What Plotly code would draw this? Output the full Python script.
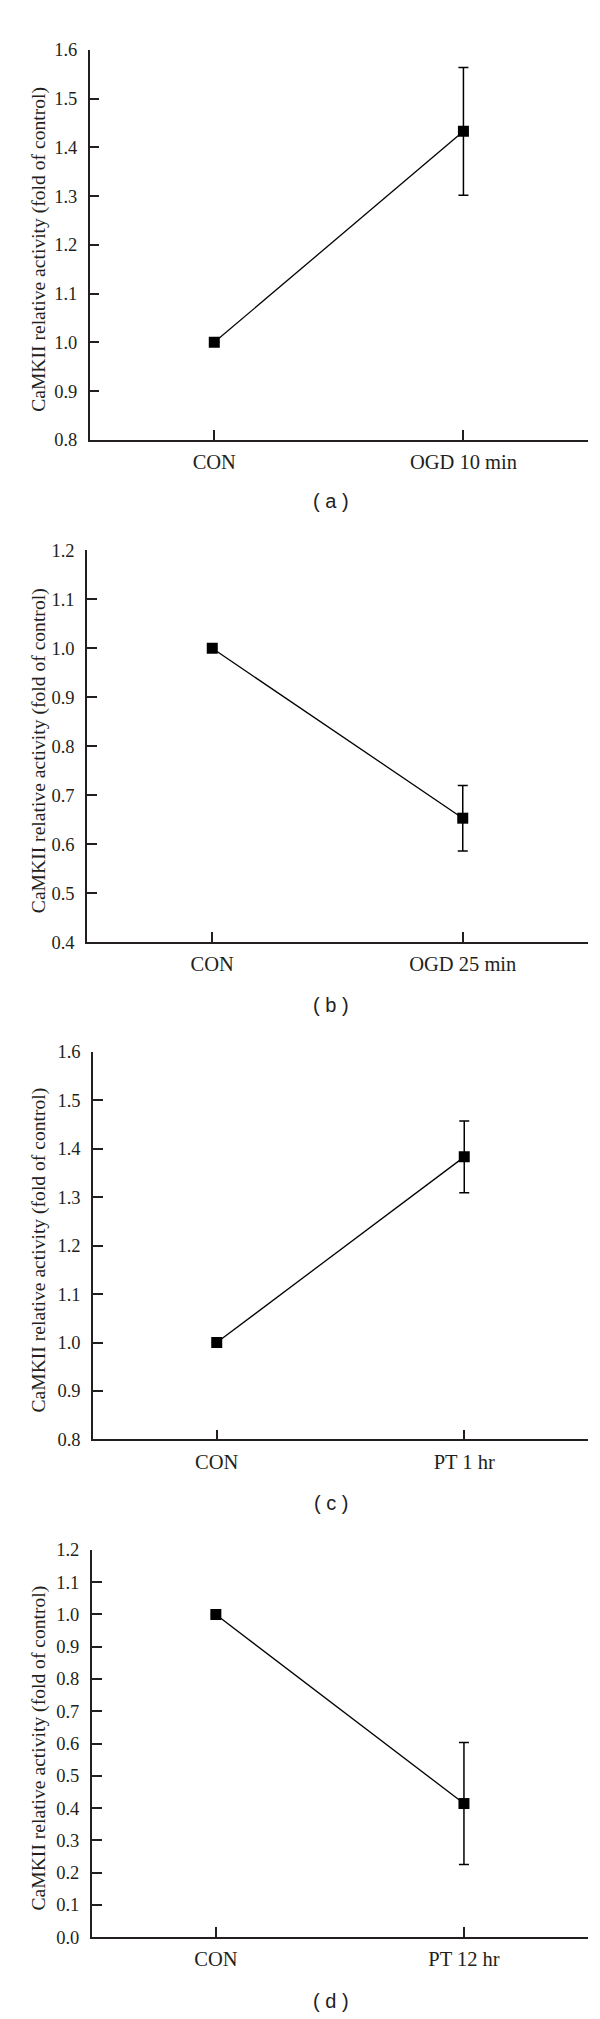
import plotly.graph_objects as go

# ---- data ----
categories_a = ["CON", "OGD 10 min"]
values_a = [1.0, 1.433]
errors_a = [0.0, 0.131]

categories_b = ["CON", "OGD 25 min"]
values_b = [1.0, 0.653]
errors_b = [0.0, 0.067]

categories_c = ["CON", "PT 1 hr"]
values_c = [1.0, 1.383]
errors_c = [0.0, 0.074]

categories_d = ["CON", "PT 12 hr"]
values_d = [1.0, 0.414]
errors_d = [0.0, 0.189]

yticks_a = [0.8, 0.9, 1.0, 1.1, 1.2, 1.3, 1.4, 1.5, 1.6]
yticks_b = [0.4, 0.5, 0.6, 0.7, 0.8, 0.9, 1.0, 1.1, 1.2]
yticks_c = [0.8, 0.9, 1.0, 1.1, 1.2, 1.3, 1.4, 1.5, 1.6]
yticks_d = [0.0, 0.1, 0.2, 0.3, 0.4, 0.5, 0.6, 0.7, 0.8, 0.9, 1.0, 1.1, 1.2]

panel_labels = ["( a )", "( b )", "( c )", "( d )"]
y_title = "CaMKII relative activity (fold of control)"

# ---- layout geometry (pixels in a 600 x 2019 page) ----
W, H = 600, 2019
panels = [
    dict(cats=categories_a, vals=values_a, errs=errors_a, ticks=yticks_a,
         x0=81.7, x1=580, ytop=32.3, ybot=426, lab_y=488),
    dict(cats=categories_b, vals=values_b, errs=errors_b, ticks=yticks_b,
         x0=79, x1=580, ytop=537.7, ybot=933.3, lab_y=996.7),
    dict(cats=categories_c, vals=values_c, errs=errors_c, ticks=yticks_c,
         x0=85, x1=580, ytop=1044, ybot=1435.7, lab_y=1500),
    dict(cats=categories_d, vals=values_d, errs=errors_d, ticks=yticks_d,
         x0=83.8, x1=580, ytop=1547.3, ybot=1938.3, lab_y=2003),
]

def py(p):
    return 1 - p / H

INK = "#231f20"
SERIF = "Liberation Serif, Times New Roman, serif"
SANS = "Liberation Sans, Arial, sans-serif"

fig = go.Figure()
annotations = []
layout_axes = {}

for i, p in enumerate(panels):
    n = "" if i == 0 else str(i + 1)
    xa, ya = "x" + n, "y" + n
    fig.add_trace(go.Scatter(
        x=p["cats"], y=p["vals"],
        xaxis=xa, yaxis=ya,
        mode="lines+markers",
        line=dict(color="black", width=1.3),
        marker=dict(symbol="square", size=11, color="black"),
        error_y=dict(type="data", array=p["errs"], visible=True,
                     color="black", thickness=1.5, width=5),
        showlegend=False, hoverinfo="skip",
    ))
    layout_axes["xaxis" + n] = dict(
        domain=[p["x0"] / W, p["x1"] / W], anchor=ya,
        type="category", range=[-0.5, 1.5],
        showline=True, linewidth=1.5, linecolor=INK,
        ticks="inside", ticklen=10, tickwidth=1.5, tickcolor=INK,
        ticklabelstandoff=3,
        tickfont=dict(family=SERIF, size=20.5, color=INK),
        showgrid=False, zeroline=False, fixedrange=True,
    )
    lo, hi = p["ticks"][0], p["ticks"][-1]
    layout_axes["yaxis" + n] = dict(
        domain=[py(p["ybot"]), py(p["ytop"])], anchor=xa,
        range=[lo, hi], tickmode="array", tickvals=p["ticks"],
        ticktext=[f"{v:.1f}" for v in p["ticks"]],
        showline=True, linewidth=1.5, linecolor=INK,
        ticks="inside", ticklen=10, tickwidth=1.5, tickcolor=INK,
        ticklabelstandoff=7,
        tickfont=dict(family=SERIF, size=18.5, color=INK),
        showgrid=False, zeroline=False, fixedrange=True,
    )
    annotations.append(dict(
        text=y_title, textangle=-90, xref="paper", yref="paper",
        x=31 / W, y=py((p["ytop"] + p["ybot"]) / 2 + 5),
        xanchor="center", yanchor="middle", showarrow=False,
        font=dict(family=SERIF, size=19.6, color=INK),
    ))
    annotations.append(dict(
        text=panel_labels[i], xref="paper", yref="paper",
        x=323 / W, y=py(p["lab_y"]), xanchor="center", yanchor="middle",
        showarrow=False, font=dict(family=SANS, size=20, color="#222222"),
    ))

fig.update_layout(
    width=W, height=H,
    margin=dict(l=0, r=0, t=0, b=0),
    paper_bgcolor="white", plot_bgcolor="white",
    annotations=annotations,
    **layout_axes,
)

fig.write_html("out.html")
